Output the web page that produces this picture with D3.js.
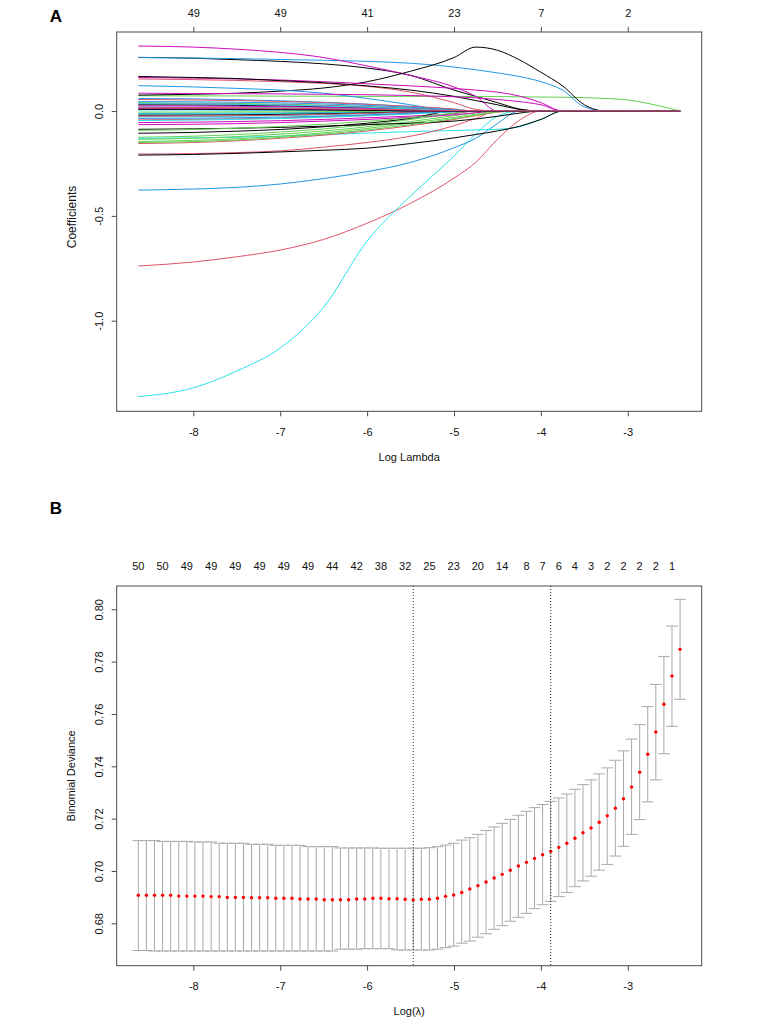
<!DOCTYPE html>
<html><head><meta charset="utf-8">
<script src="https://cdn.jsdelivr.net/npm/d3@7"></script>
<style>body{margin:0;background:#fff}</style>
</head><body><svg id="c" width="762" height="1023"></svg>
<script>
// ---------------- DATA ----------------
// Panel A: coefficient paths, values at shared log-lambda knots
const knotLogLambda = [-8.633,-8,-7.5,-7,-6.5,-6,-5.5,-5,-4.75,-4.5,-4.25,-4,-3.75,-3.5,-3.25,-3,-2.75,-2.398];
const coefPaths = [
[0.256,0.252,0.245,0.237,0.225,0.205,0.170,0.100,0.070,0.040,0.010,0,0,0,0,0,0,0],
[-0.739,-0.720,-0.695,-0.663,-0.612,-0.535,-0.440,-0.320,-0.245,-0.135,-0.045,0,0,0,0,0,0,0],
[0.073,0.072,0.072,0.071,0.071,0.070,0.070,0.070,0.069,0.069,0.068,0.067,0.066,0.064,0.060,0.053,0.035,0],
[0.255,0.253,0.250,0.246,0.242,0.237,0.228,0.210,0.197,0.182,0.165,0.140,0.100,0.020,0,0,0,0],
[-1.362,-1.320,-1.240,-1.130,-0.935,-0.620,-0.405,-0.215,-0.110,-0.025,0,0,0,0,0,0,0,0],
[0.310,0.305,0.295,0.280,0.255,0.215,0.170,0.115,0.070,0,0,0,0,0,0,0,0,0],
[0.076,0.080,0.085,0.095,0.110,0.140,0.190,0.255,0.305,0.290,0.245,0.185,0.120,0.030,0,0,0,0],
[0.153,0.150,0.146,0.140,0.132,0.118,0.090,0.040,0.008,0,0,0,0,0,0,0,0,0],
[-0.125,-0.120,-0.112,-0.100,-0.085,-0.065,-0.040,-0.012,0,0,0,0,0,0,0,0,0,0],
[-0.377,-0.372,-0.364,-0.348,-0.322,-0.289,-0.245,-0.175,-0.130,-0.060,0,0,0,0,0,0,0,0],
[-0.130,-0.128,-0.125,-0.120,-0.113,-0.105,-0.098,-0.093,-0.090,-0.087,-0.075,-0.040,0,0,0,0,0,0],
[0.160,0.157,0.153,0.148,0.140,0.130,0.120,0.108,0.100,0.090,0.072,0.040,0,0,0,0,0,0],
[0.165,0.160,0.155,0.145,0.135,0.120,0.100,0.070,0.050,0.030,0.008,0,0,0,0,0,0,0],
[-0.205,-0.203,-0.198,-0.190,-0.172,-0.150,-0.120,-0.070,-0.035,0,0,0,0,0,0,0,0,0],
[-0.135,-0.130,-0.122,-0.110,-0.095,-0.075,-0.050,-0.022,-0.008,0,0,0,0,0,0,0,0,0],
[0.121,0.115,0.108,0.100,0.085,0.060,0.030,0,0,0,0,0,0,0,0,0,0,0],
[-0.028,-0.027,-0.025,-0.022,-0.018,-0.012,-0.006,0,0,0,0,0,0,0,0,0,0,0],
[0.085,0.084,0.083,0.082,0.080,0.078,0.074,0.068,0.063,0.055,0.045,0.030,0,0,0,0,0,0],
[-0.210,-0.207,-0.202,-0.195,-0.187,-0.177,-0.155,-0.128,-0.112,-0.095,-0.073,-0.040,0,0,0,0,0,0],
[-0.155,-0.150,-0.142,-0.130,-0.115,-0.095,-0.070,-0.040,-0.022,-0.005,0,0,0,0,0,0,0,0],
[-0.145,-0.140,-0.132,-0.120,-0.104,-0.083,-0.058,-0.030,-0.015,0,0,0,0,0,0,0,0,0],
[0.060,0.058,0.054,0.049,0.042,0.033,0.022,0.008,0,0,0,0,0,0,0,0,0,0],
[0.020,0.019,0.018,0.016,0.013,0.009,0.004,0,0,0,0,0,0,0,0,0,0,0],
[-0.055,-0.053,-0.050,-0.046,-0.040,-0.032,-0.024,-0.012,0,0,0,0,0,0,0,0,0,0],
[-0.087,-0.085,-0.082,-0.078,-0.072,-0.065,-0.058,-0.048,-0.038,-0.025,-0.010,0,0,0,0,0,0,0],
[-0.042,-0.040,-0.037,-0.033,-0.027,-0.020,-0.012,-0.004,0,0,0,0,0,0,0,0,0,0],
[-0.150,-0.146,-0.138,-0.126,-0.110,-0.090,-0.065,-0.036,-0.020,-0.004,0,0,0,0,0,0,0,0],
[0.015,0.014,0.013,0.011,0.009,0.006,0.002,0,0,0,0,0,0,0,0,0,0,0],
[0.005,0.005,0.004,0.004,0.003,0.002,0,0,0,0,0,0,0,0,0,0,0,0],
[-0.065,-0.063,-0.060,-0.055,-0.048,-0.040,-0.030,-0.018,-0.008,0,0,0,0,0,0,0,0,0],
[-0.106,-0.102,-0.096,-0.088,-0.075,-0.058,-0.035,0,0,0,0,0,0,0,0,0,0,0],
[0.055,0.053,0.050,0.046,0.040,0.032,0.022,0.010,0,0,0,0,0,0,0,0,0,0],
[0.040,0.038,0.036,0.033,0.028,0.022,0.014,0.005,0,0,0,0,0,0,0,0,0,0],
[-0.012,-0.011,-0.010,-0.009,-0.007,-0.005,-0.002,0,0,0,0,0,0,0,0,0,0,0],
[-0.045,-0.043,-0.040,-0.036,-0.030,-0.023,-0.014,-0.004,0,0,0,0,0,0,0,0,0,0],
[0.035,0.034,0.032,0.029,0.025,0.019,0.011,0.003,0,0,0,0,0,0,0,0,0,0],
[0.030,0.029,0.027,0.024,0.020,0.015,0.008,0,0,0,0,0,0,0,0,0,0,0],
[0.012,0.012,0.011,0.010,0.008,0.005,0.002,0,0,0,0,0,0,0,0,0,0,0],
[-0.005,-0.005,-0.004,-0.004,-0.003,-0.002,0,0,0,0,0,0,0,0,0,0,0,0],
[0.045,0.044,0.042,0.039,0.034,0.027,0.018,0.006,0,0,0,0,0,0,0,0,0,0],
[-0.015,-0.014,-0.013,-0.012,-0.010,-0.007,-0.003,0,0,0,0,0,0,0,0,0,0,0],
[0.025,0.024,0.023,0.021,0.018,0.013,0.007,0,0,0,0,0,0,0,0,0,0,0],
[-0.020,-0.019,-0.018,-0.016,-0.013,-0.009,-0.004,0,0,0,0,0,0,0,0,0,0,0],
[-0.025,-0.024,-0.022,-0.020,-0.016,-0.011,-0.005,0,0,0,0,0,0,0,0,0,0,0],
[-0.092,-0.088,-0.082,-0.074,-0.063,-0.049,-0.032,-0.010,0,0,0,0,0,0,0,0,0,0],
[-0.035,-0.034,-0.032,-0.029,-0.024,-0.018,-0.010,-0.002,0,0,0,0,0,0,0,0,0,0],
[0.035,0.034,0.032,0.029,0.024,0.018,0.010,0.002,0,0,0,0,0,0,0,0,0,0],
[0.010,0.010,0.009,0.008,0.006,0.004,0.001,0,0,0,0,0,0,0,0,0,0,0],
[0.008,0.008,0.007,0.006,0.005,0.003,0.001,0,0,0,0,0,0,0,0,0,0,0],
[0.018,0.017,0.016,0.014,0.011,0.008,0.005,0.003,0.002,0.002,0.001,0.001,0.001,0.001,0.001,0.001,0.0005,0]
];
const axisTicksX = [-8,-7,-6,-5,-4,-3];
const topLabelsA = ["49","49","41","23","7","2"];
const yTicksA = [-1.0,-0.5,0.0];

// Panel B: cross-validation curve
const logLambda = [-8.633,-8.540,-8.447,-8.354,-8.261,-8.168,-8.075,-7.982,-7.889,-7.795,
-7.702,-7.609,-7.516,-7.423,-7.330,-7.237,-7.144,-7.051,-6.958,-6.865,
-6.772,-6.679,-6.586,-6.493,-6.400,-6.307,-6.213,-6.120,-6.027,-5.934,
-5.841,-5.748,-5.655,-5.562,-5.469,-5.376,-5.283,-5.190,-5.097,-5.004,
-4.911,-4.818,-4.725,-4.631,-4.538,-4.445,-4.352,-4.259,-4.166,-4.073,
-3.980,-3.887,-3.794,-3.701,-3.608,-3.515,-3.422,-3.329,-3.236,-3.143,
-3.049,-2.956,-2.863,-2.770,-2.677,-2.584,-2.491,-2.398];
const cvm = [0.6907,0.6907,0.6907,0.6907,0.6907,0.6904,0.6904,0.6904,0.6904,0.6902,
0.6902,0.6899,0.6899,0.6899,0.6898,0.6898,0.6898,0.6896,0.6896,0.6896,
0.6893,0.6893,0.6893,0.6890,0.6890,0.6890,0.6890,0.6893,0.6893,0.6896,
0.6896,0.6894,0.6894,0.6892,0.6889,0.6892,0.6892,0.6896,0.6903,0.6908,
0.6918,0.6931,0.6944,0.6958,0.6973,0.6987,0.7003,0.7019,0.7033,0.7048,
0.7062,0.7075,0.7090,0.7106,0.7125,0.7146,0.7164,0.7186,0.7211,0.7240,
0.7276,0.7321,0.7377,0.7446,0.7531,0.7637,0.7745,0.7847];
const cvup = [0.7116,0.7116,0.7116,0.7113,0.7113,0.7113,0.7113,0.7111,0.7111,0.7111,
0.7106,0.7106,0.7106,0.7106,0.7102,0.7102,0.7102,0.7098,0.7098,0.7098,
0.7098,0.7093,0.7093,0.7093,0.7093,0.7088,0.7088,0.7088,0.7088,0.7088,
0.7087,0.7087,0.7087,0.7087,0.7087,0.7087,0.7089,0.7093,0.7099,0.7106,
0.7118,0.7127,0.7140,0.7155,0.7168,0.7182,0.7197,0.7213,0.7228,0.7242,
0.7254,0.7266,0.7279,0.7294,0.7312,0.7330,0.7348,0.7371,0.7394,0.7423,
0.7459,0.7504,0.7559,0.7628,0.7713,0.7820,0.7936,0.8038];
const cvlo = [0.6696,0.6696,0.6694,0.6694,0.6694,0.6694,0.6694,0.6694,0.6694,0.6694,
0.6694,0.6694,0.6694,0.6694,0.6694,0.6694,0.6694,0.6694,0.6694,0.6694,
0.6694,0.6694,0.6694,0.6694,0.6694,0.6701,0.6701,0.6701,0.6703,0.6703,
0.6703,0.6703,0.6698,0.6698,0.6698,0.6698,0.6698,0.6701,0.6707,0.6713,
0.6724,0.6732,0.6747,0.6760,0.6777,0.6791,0.6808,0.6823,0.6838,0.6856,
0.6871,0.6884,0.6902,0.6918,0.6940,0.6962,0.6980,0.7003,0.7025,0.7057,
0.7094,0.7140,0.7196,0.7264,0.7348,0.7448,0.7553,0.7656];
const topLabelIdxB = [0,3,6,9,12,15,18,21,24,27,30,33,36,39,42,45,48,50,52,54,56,58,60,62,64,66];
const topLabelsB = ["50","50","49","49","49","49","49","49","44","42","38","32","25","23","20","14","8","7","6","4","3","2","2","2","2","1"];
const yTicksB = [0.68,0.70,0.72,0.74,0.76,0.78,0.80];
const lambdaMinLog = -5.469;
const lambda1seLog = -3.887;

// ---------------- STYLE / LAYOUT ----------------
const FONT = "'Liberation Sans', Arial, Helvetica, sans-serif";
const FS = 11;
const palette = ['#000000','#DF536B','#61D04F','#2297E6','#28E2E5','#CD0BBC'];
const AXC = '#4a4a4a';
const svg = d3.select('#c');
svg.append('rect').attr('width',762).attr('height',1023).attr('fill','#fff');

function styleAxis(g){
  g.select('.domain').remove();
  g.selectAll('line').attr('stroke',AXC);
  g.selectAll('text').attr('font-family',FONT).attr('font-size',FS).attr('fill','#111');
}
function rotateYLabels(g){
  g.selectAll('.tick text').attr('transform','rotate(-90)').attr('x',0).attr('y',-14)
    .attr('dy',0).attr('text-anchor','middle');
}

// ================= PANEL A =================
const A = {l:116.7, r:701.7, t:32, b:411.3};
const xA = d3.scaleLinear().domain([-8.882,-2.149]).range([A.l,A.r]);
const yA = d3.scaleLinear().domain([-1.432,0.377]).range([A.b,A.t]);

svg.append('clipPath').attr('id','clipA').append('rect')
  .attr('x',A.l).attr('y',A.t).attr('width',A.r-A.l).attr('height',A.b-A.t);
const gLines = svg.append('g').attr('clip-path','url(#clipA)');
const lineA = d3.line().x((d,k)=>xA(knotLogLambda[k])).y(d=>yA(d)).curve(d3.curveMonotoneX);
coefPaths.forEach((vals,j)=>{
  gLines.append('path').attr('d',lineA(vals)).attr('fill','none')
    .attr('stroke',palette[j%6]).attr('stroke-width',1);
});
svg.append('rect').attr('x',A.l).attr('y',A.t).attr('width',A.r-A.l).attr('height',A.b-A.t)
  .attr('fill','none').attr('stroke',AXC).attr('stroke-width',1);

svg.append('g').attr('transform',`translate(0,${A.b})`)
  .call(d3.axisBottom(xA).tickValues(axisTicksX).tickSize(5).tickPadding(11.5).tickFormat(d=>String(d)))
  .call(styleAxis);
svg.append('g').attr('transform',`translate(0,${A.t})`)
  .call(d3.axisTop(xA).tickValues(axisTicksX).tickSize(5).tickPadding(10.5).tickFormat((d,i)=>topLabelsA[i]))
  .call(styleAxis);
svg.append('g').attr('transform',`translate(${A.l},0)`)
  .call(d3.axisLeft(yA).tickValues(yTicksA).tickSize(5).tickFormat(d=>d.toFixed(1)))
  .call(styleAxis).call(rotateYLabels);

svg.append('text').attr('x',(A.l+A.r)/2).attr('y',461).attr('text-anchor','middle')
  .attr('font-family',FONT).attr('font-size',FS).attr('fill','#111').text('Log Lambda');
svg.append('text').attr('transform',`translate(75.5,217) rotate(-90)`).attr('text-anchor','middle')
  .attr('font-family',FONT).attr('font-size',12).attr('fill','#111').text('Coefficients');
svg.append('text').attr('x',56).attr('y',21.5).attr('text-anchor','middle')
  .attr('font-family',FONT).attr('font-size',17).attr('font-weight','bold').attr('fill','#000').text('A');

// ================= PANEL B =================
const B = {l:116.7, r:701.7, t:586, b:965.7};
const xB = d3.scaleLinear().domain([-8.882,-2.149]).range([B.l,B.r]);
const yB = d3.scaleLinear().domain([0.6638,0.8089]).range([B.b,B.t]);
const capHalf = 0.0673;

const gBars = svg.append('g').attr('stroke','#a9a9a9').attr('stroke-width',1);
logLambda.forEach((lx,i)=>{
  gBars.append('line').attr('x1',xB(lx)).attr('x2',xB(lx)).attr('y1',yB(cvlo[i])).attr('y2',yB(cvup[i]));
  gBars.append('line').attr('x1',xB(lx-capHalf)).attr('x2',xB(lx+capHalf)).attr('y1',yB(cvup[i])).attr('y2',yB(cvup[i]));
  gBars.append('line').attr('x1',xB(lx-capHalf)).attr('x2',xB(lx+capHalf)).attr('y1',yB(cvlo[i])).attr('y2',yB(cvlo[i]));
});
svg.append('g').selectAll('circle').data(logLambda).join('circle')
  .attr('cx',d=>xB(d)).attr('cy',(d,i)=>yB(cvm[i])).attr('r',1.7).attr('fill','#ff0000');

svg.append('g').selectAll('text').data(topLabelIdxB).join('text')
  .attr('x',d=>xB(logLambda[d])).attr('y',B.t-16.5).attr('text-anchor','middle')
  .attr('font-family',FONT).attr('font-size',FS).attr('fill','#111').text((d,i)=>topLabelsB[i]);

[lambdaMinLog, lambda1seLog].forEach(v=>{
  svg.append('line').attr('x1',xB(v)).attr('x2',xB(v)).attr('y1',B.t).attr('y2',B.b)
    .attr('stroke','#222').attr('stroke-width',1).attr('stroke-dasharray','1,2');
});

svg.append('rect').attr('x',B.l).attr('y',B.t).attr('width',B.r-B.l).attr('height',B.b-B.t)
  .attr('fill','none').attr('stroke',AXC).attr('stroke-width',1);
svg.append('g').attr('transform',`translate(0,${B.b})`)
  .call(d3.axisBottom(xB).tickValues(axisTicksX).tickSize(5).tickPadding(11.5).tickFormat(d=>String(d)))
  .call(styleAxis);
svg.append('g').attr('transform',`translate(${B.l},0)`)
  .call(d3.axisLeft(yB).tickValues(yTicksB).tickSize(5).tickFormat(d=>d.toFixed(2)))
  .call(styleAxis).call(rotateYLabels);

svg.append('text').attr('x',(B.l+B.r)/2).attr('y',1015).attr('text-anchor','middle')
  .attr('font-family',FONT).attr('font-size',FS).attr('fill','#111').text('Log(\u03BB)');
svg.append('text').attr('transform',`translate(75,${(B.t+B.b)/2}) rotate(-90)`).attr('text-anchor','middle')
  .attr('font-family',FONT).attr('font-size',FS).attr('fill','#111').text('Binomial Deviance');
svg.append('text').attr('x',56).attr('y',514).attr('text-anchor','middle')
  .attr('font-family',FONT).attr('font-size',17).attr('font-weight','bold').attr('fill','#000').text('B');
</script></body></html>
